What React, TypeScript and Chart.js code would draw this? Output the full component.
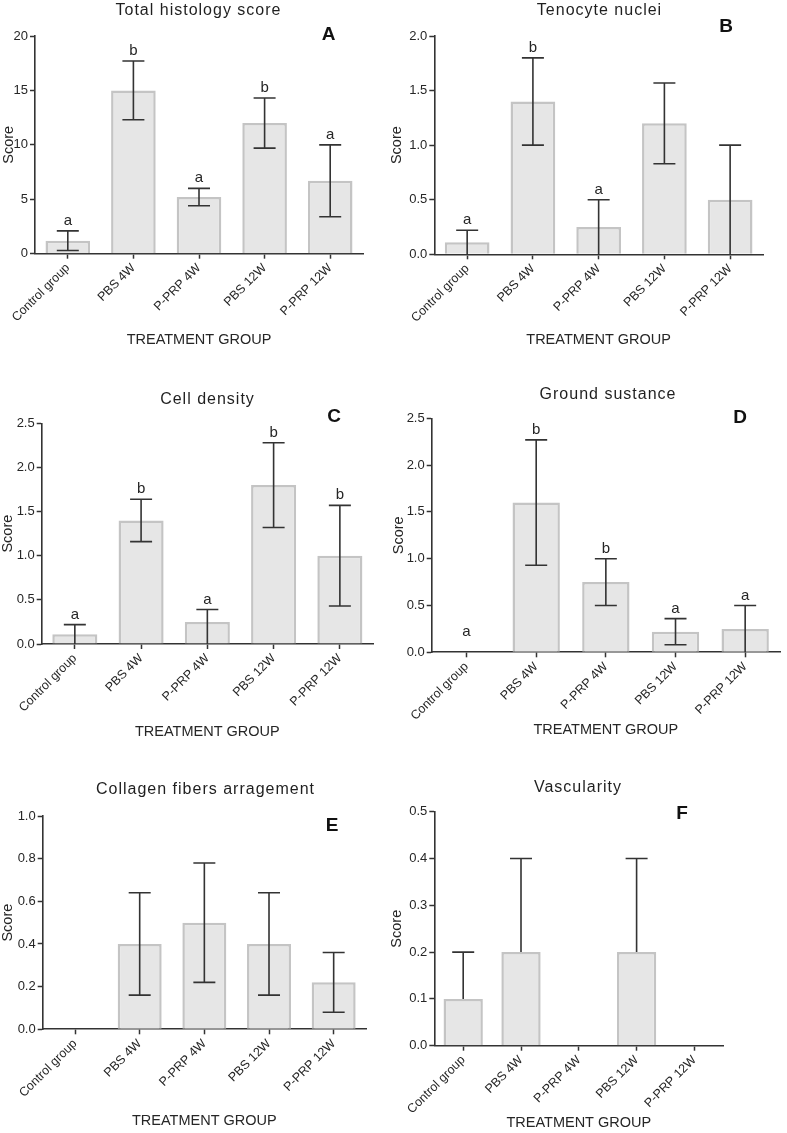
import React, { useEffect, useRef } from 'react';
import { Chart, registerables } from 'chart.js';

Chart.register(...registerables);

const FONT = '"Liberation Sans", Arial, Helvetica, sans-serif';
const TEXT = '#262626';
const AXIS = '#333333';

// ---- categories ----
const groups = ['Control group', 'PBS 4W', 'P-PRP 4W', 'PBS 12W', 'P-PRP 12W'];

// ---- A: Total histology score ----
const totalMean = [1.2, 15.0, 5.2, 12.0, 6.7];
const totalLow = [0.3, 12.3, 4.4, 9.7, 3.4];
const totalHigh = [2.1, 17.7, 6.0, 14.3, 10.0];
const totalLetters = ['a', 'b', 'a', 'b', 'a'];

// ---- B: Tenocyte nuclei ----
const nucleiMean = [0.11, 1.4, 0.25, 1.2, 0.5];
const nucleiLow = [0, 1.0, 0, 0.83, 0];
const nucleiHigh = [0.22, 1.8, 0.5, 1.57, 1.0];
const nucleiLetters = ['a', 'b', 'a', '', ''];

// ---- C: Cell density ----
const densityMean = [0.11, 1.4, 0.25, 1.8, 1.0];
const densityLow = [0, 1.16, 0, 1.32, 0.43];
const densityHigh = [0.22, 1.64, 0.39, 2.28, 1.57];
const densityLetters = ['a', 'b', 'a', 'b', 'b'];

// ---- D: Ground sustance ----
const groundMean = [0, 1.6, 0.75, 0.22, 0.25];
const groundLow = [0, 0.93, 0.5, 0.08, 0];
const groundHigh = [0, 2.27, 1.0, 0.36, 0.5];
const groundLetters = ['a', 'b', 'b', 'a', 'a'];

// ---- E: Collagen fibers arragement ----
const collagenMean = [0, 0.4, 0.5, 0.4, 0.22];
const collagenLow = [0, 0.16, 0.22, 0.16, 0.08];
const collagenHigh = [0, 0.64, 0.78, 0.64, 0.36];
const collagenLetters = ['', '', '', '', ''];

// ---- F: Vascularity ----
const vascMean = [0.1, 0.2, 0, 0.2, 0];
const vascLow = [0.1, 0.2, 0, 0.2, 0];
const vascHigh = [0.2, 0.4, 0, 0.4, 0];
const vascLetters = ['', '', '', '', ''];

// ---- y-axis ranges ----
const yMaxes = [20, 2.0, 2.5, 2.5, 1.0, 0.5];
const ySteps = [5, 0.5, 0.5, 0.5, 0.2, 0.1];
const yDecimals = [0, 1, 1, 1, 1, 1];

type Rect = { x: number; y: number; w: number; h: number };
type Area = { l: number; t: number; r: number; b: number };
type Panel = {
  title: string;
  tag: string;
  mean: number[];
  low: number[];
  high: number[];
  letters: string[];
  yMax: number;
  yStep: number;
  decimals: number;
  canvas: Rect;
  area: Area;
  titlePos: [number, number];
  tagPos: [number, number];
  xTitleY: number;
  yTitleX: number;
};

const panels: Panel[] = [
  {
    title: 'Total histology score', tag: 'A',
    mean: totalMean, low: totalLow, high: totalHigh, letters: totalLetters,
    yMax: yMaxes[0], yStep: ySteps[0], decimals: yDecimals[0],
    canvas: { x: 0, y: 0, w: 390, h: 378 },
    area: { l: 35, t: 36, r: 363, b: 253.7 },
    titlePos: [198, 11], tagPos: [328.5, 35], xTitleY: 340, yTitleX: 9.2,
  },
  {
    title: 'Tenocyte nuclei', tag: 'B',
    mean: nucleiMean, low: nucleiLow, high: nucleiHigh, letters: nucleiLetters,
    yMax: yMaxes[1], yStep: ySteps[1], decimals: yDecimals[1],
    canvas: { x: 390, y: 0, w: 397, h: 378 },
    area: { l: 434.3, t: 36, r: 763, b: 254.3 },
    titlePos: [599, 10.5], tagPos: [726, 27], xTitleY: 339.7, yTitleX: 397.2,
  },
  {
    title: 'Cell density', tag: 'C',
    mean: densityMean, low: densityLow, high: densityHigh, letters: densityLetters,
    yMax: yMaxes[2], yStep: ySteps[2], decimals: yDecimals[2],
    canvas: { x: 0, y: 378, w: 390, h: 380 },
    area: { l: 41.7, t: 423.3, r: 373, b: 644 },
    titlePos: [207, 399.7], tagPos: [334, 417], xTitleY: 731.7, yTitleX: 8,
  },
  {
    title: 'Ground sustance', tag: 'D',
    mean: groundMean, low: groundLow, high: groundHigh, letters: groundLetters,
    yMax: yMaxes[3], yStep: ySteps[3], decimals: yDecimals[3],
    canvas: { x: 390, y: 378, w: 397, h: 380 },
    area: { l: 431.7, t: 418.3, r: 780, b: 652.3 },
    titlePos: [607.5, 395], tagPos: [740, 418], xTitleY: 730, yTitleX: 399,
  },
  {
    title: 'Collagen fibers arragement', tag: 'E',
    mean: collagenMean, low: collagenLow, high: collagenHigh, letters: collagenLetters,
    yMax: yMaxes[4], yStep: ySteps[4], decimals: yDecimals[4],
    canvas: { x: 0, y: 758, w: 390, h: 375 },
    area: { l: 42.7, t: 816, r: 366, b: 1029.3 },
    titlePos: [205, 790], tagPos: [332, 825.5], xTitleY: 1121, yTitleX: 8.3,
  },
  {
    title: 'Vascularity', tag: 'F',
    mean: vascMean, low: vascLow, high: vascHigh, letters: vascLetters,
    yMax: yMaxes[5], yStep: ySteps[5], decimals: yDecimals[5],
    canvas: { x: 390, y: 758, w: 397, h: 375 },
    area: { l: 434.3, t: 811.7, r: 723.3, b: 1045.7 },
    titlePos: [577.5, 788], tagPos: [682, 814], xTitleY: 1122.5, yTitleX: 396.7,
  },
];

const CAP = 11;

function makeOverlay(p: Panel) {
  return {
    id: 'overlay' + p.tag,
    afterDatasetsDraw(chart: any) {
      const ctx = chart.ctx as CanvasRenderingContext2D;
      const ys = chart.scales.y;
      const meta = chart.getDatasetMeta(0);
      ctx.save();
      ctx.strokeStyle = AXIS;
      ctx.lineWidth = 1.6;
      meta.data.forEach((el: any, i: number) => {
        const x = el.x;
        const hi = p.high[i];
        const lo = p.low[i];
        const m = p.mean[i];
        if (hi > lo) {
          const yh = ys.getPixelForValue(hi);
          const yl = ys.getPixelForValue(lo);
          ctx.beginPath();
          ctx.moveTo(x, yl);
          ctx.lineTo(x, yh);
          ctx.moveTo(x - CAP, yh);
          ctx.lineTo(x + CAP, yh);
          if (lo > 0 && lo < m) {
            ctx.moveTo(x - CAP, yl);
            ctx.lineTo(x + CAP, yl);
          }
          ctx.stroke();
        }
        const L = p.letters[i];
        if (L) {
          ctx.fillStyle = TEXT;
          ctx.font = `15px ${FONT}`;
          ctx.textAlign = 'center';
          ctx.textBaseline = 'alphabetic';
          const base = hi > 0 ? ys.getPixelForValue(hi) - 6 : ys.getPixelForValue(0) - 16;
          ctx.fillText(L, x, base);
        }
      });
      // panel title
      ctx.fillStyle = '#1f1f1f';
      ctx.font = `16px ${FONT}`;
      (ctx as any).letterSpacing = '1px';
      ctx.textAlign = 'center';
      ctx.textBaseline = 'middle';
      ctx.fillText(p.title, p.titlePos[0] - p.canvas.x + 0.5, p.titlePos[1] - p.canvas.y);
      (ctx as any).letterSpacing = '0px';
      // panel tag
      ctx.fillStyle = '#111';
      ctx.font = `bold 19px ${FONT}`;
      ctx.fillText(p.tag, p.tagPos[0] - p.canvas.x, p.tagPos[1] - p.canvas.y);
      ctx.restore();
    },
  };
}

function PanelChart({ p }: { p: Panel }) {
  const ref = useRef<HTMLCanvasElement | null>(null);
  useEffect(() => {
    if (!ref.current) return;
    const { canvas, area } = p;
    const yWidth = area.l - canvas.x;
    const xHeight = canvas.y + canvas.h - area.b;
    const padTop = area.t - canvas.y;
    const padRight = canvas.x + canvas.w - area.r;
    const xTitleLH = 14.5 * 1.2;
    const yTitleLH = 14.5 * 1.2;
    const xTitlePadBottom = canvas.y + canvas.h - p.xTitleY - xTitleLH / 2;
    const yTitlePadTop = p.yTitleX - canvas.x - yTitleLH / 2;

    const chart = new Chart(ref.current, {
      type: 'bar',
      data: {
        labels: groups,
        datasets: [
          {
            data: p.mean,
            backgroundColor: '#e6e6e6',
            borderColor: '#c4c4c4',
            borderWidth: 2.5,
            barPercentage: 0.68,
            categoryPercentage: 1,
          },
        ],
      },
      options: {
        responsive: false,
        animation: false,
        events: [],
        layout: {
          autoPadding: false,
          padding: { top: padTop, right: padRight, bottom: 0, left: 0 },
        } as any,
        plugins: {
          legend: { display: false },
          title: { display: false },
          tooltip: { enabled: false },
        },
        scales: {
          x: {
            type: 'category',
            offset: true,
            grid: {
              display: true,
              offset: false,
              drawOnChartArea: false,
              drawTicks: true,
              tickLength: 5,
              tickWidth: 1.5,
              color: AXIS,
            },
            border: { display: true, color: AXIS, width: 1.6 },
            ticks: {
              autoSkip: false,
              minRotation: 45,
              maxRotation: 45,
              padding: 2,
              color: TEXT,
              font: { family: FONT, size: 12.5 },
            },
            title: {
              display: true,
              text: 'TREATMENT GROUP',
              color: TEXT,
              font: { family: FONT, size: 14.5 },
              padding: { top: 0, bottom: xTitlePadBottom },
            },
            afterFit: (scale: any) => {
              scale.height = xHeight;
            },
          },
          y: {
            type: 'linear',
            min: 0,
            max: p.yMax,
            grid: {
              display: true,
              drawOnChartArea: false,
              drawTicks: true,
              tickLength: 5,
              tickWidth: 1.5,
              color: AXIS,
            },
            border: { display: true, color: AXIS, width: 1.6 },
            ticks: {
              stepSize: p.yStep,
              padding: 2,
              color: TEXT,
              font: { family: FONT, size: 13 },
              callback: (v: any) => Number(v).toFixed(p.decimals),
            },
            title: {
              display: true,
              text: 'Score',
              color: TEXT,
              font: { family: FONT, size: 14.5 },
              padding: { top: yTitlePadTop, bottom: 0 },
            },
            afterFit: (scale: any) => {
              scale.width = yWidth;
            },
          },
        },
      } as any,
      plugins: [makeOverlay(p)],
    });
    return () => chart.destroy();
  }, [p]);

  return (
    <canvas
      ref={ref}
      width={p.canvas.w}
      height={p.canvas.h}
      style={{
        position: 'absolute',
        left: p.canvas.x,
        top: p.canvas.y,
        width: p.canvas.w,
        height: p.canvas.h,
      }}
    />
  );
}

export default function App() {
  return (
    <div
      style={{
        position: 'absolute',
        left: 0,
        top: 0,
        width: 787,
        height: 1133,
        background: '#ffffff',
        overflow: 'hidden',
      }}
    >
      {panels.map((p) => (
        <PanelChart key={p.tag} p={p} />
      ))}
    </div>
  );
}
